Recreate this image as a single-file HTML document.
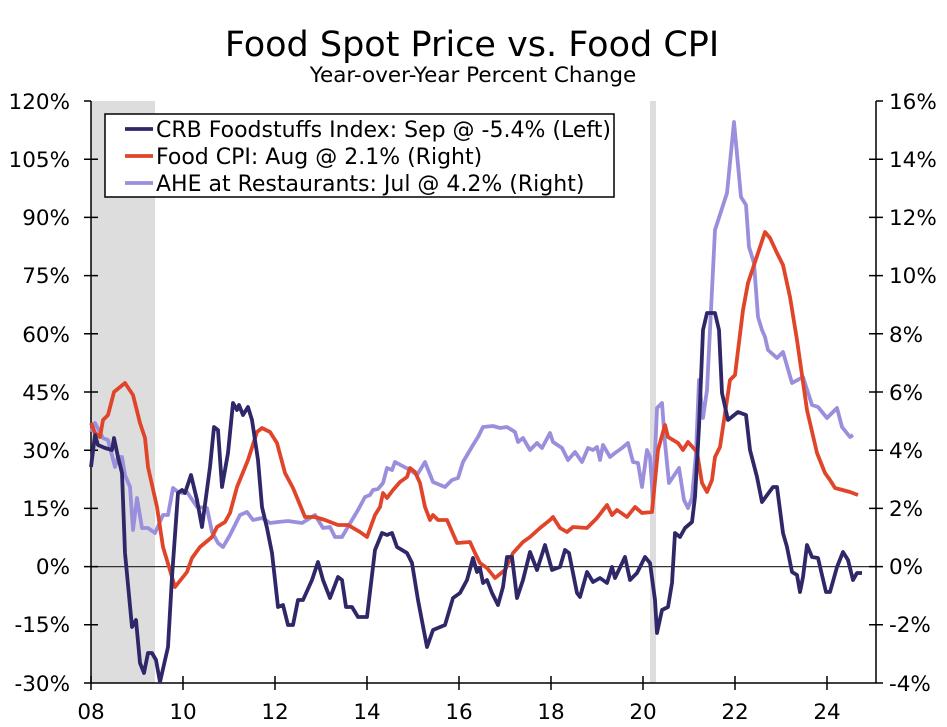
<!DOCTYPE html>
<html><head><meta charset="utf-8"><style>
body{margin:0;background:#fff}
svg{display:block;font-family:"DejaVu Sans","Liberation Sans",sans-serif}
</style></head><body>
<svg width="947" height="727" xmlns="http://www.w3.org/2000/svg">
<rect width="947" height="727" fill="#fff"/>
<text x="472" y="56" font-size="35" text-anchor="middle">Food Spot Price vs. Food CPI</text>
<text x="473" y="82" font-size="21.5" text-anchor="middle">Year-over-Year Percent Change</text>
<rect x="91" y="101" width="64" height="582" fill="#dddddd"/>
<rect x="650" y="101" width="6" height="582" fill="#dddddd"/>
<line x1="91" y1="566.6" x2="876" y2="566.6" stroke="#333" stroke-width="1.2"/>
<g stroke="#000" stroke-width="1.5" fill="none">
<line x1="91" y1="101" x2="91" y2="683"/>
<line x1="876" y1="101" x2="876" y2="683"/>
<line x1="84" y1="683" x2="883" y2="683"/>
<line x1="84" y1="101" x2="91" y2="101"/>
<path d="M84 159.2h14M84 217.4h14M84 275.6h14M84 333.8h14M84 392h14M84 450.2h14M84 508.4h14M84 566.6h14M84 624.8h14"/>
<path d="M869 159.2h14M869 217.4h14M869 275.6h14M869 333.8h14M869 392h14M869 450.2h14M869 508.4h14M869 566.6h14M869 624.8h14M876 101h7"/>
<path d="M91 676v14M183 676v14M275 676v14M367 676v14M459 676v14M551 676v14M643 676v14M735 676v14M827 676v14"/>
</g>
<g font-size="21.5" text-anchor="end">
<text x="70" y="109">120%</text><text x="70" y="167">105%</text><text x="70" y="225">90%</text><text x="70" y="283">75%</text><text x="70" y="342">60%</text><text x="70" y="400">45%</text><text x="70" y="458">30%</text><text x="70" y="516">15%</text><text x="70" y="574">0%</text><text x="70" y="632">-15%</text><text x="70" y="691">-30%</text>
</g>
<g font-size="21.5" text-anchor="start">
<text x="889" y="109">16%</text><text x="889" y="167">14%</text><text x="889" y="225">12%</text><text x="889" y="283">10%</text><text x="889" y="342">8%</text><text x="889" y="400">6%</text><text x="889" y="458">4%</text><text x="889" y="516">2%</text><text x="889" y="574">0%</text><text x="889" y="632">-2%</text><text x="889" y="691">-4%</text>
</g>
<g font-size="21.5" text-anchor="middle">
<text x="91" y="719">08</text><text x="183" y="719">10</text><text x="275" y="719">12</text><text x="367" y="719">14</text><text x="459" y="719">16</text><text x="551" y="719">18</text><text x="643" y="719">20</text><text x="735" y="719">22</text><text x="827" y="719">24</text>
</g>
<g fill="none" stroke-width="3.8" stroke-linejoin="round">
<polyline stroke="#9a8fdc" points="91,432 95,423 103,438 108,440 115,467 118,457 122,457 125,475 130,487 133,530 137,498 142,528 148,528 155,533 163,515 168,515 173,488 178,492 183,493 187,492 197,507 207,508 212,532 218,543 223,547 230,535 240,515 247,512 253,520 262,518 270,523 278,522 288,521 302,523 315,515 323,528 330,527 335,537 342,537 352,520 358,510 365,497 370,495 373,490 378,489 383,483 387,468 392,470 395,462 410,470 417,475 425,462 433,482 445,487 452,480 458,478 463,462 473,445 478,437 483,427 493,426 500,428 507,427 515,432 518,442 523,438 530,450 537,443 542,448 550,433 553,442 562,448 568,460 575,452 582,462 588,448 593,450 597,447 600,460 603,445 610,457 615,453 622,448 628,443 633,462 638,463 642,487 647,450 650,457 653,500 657,408 662,403 665,443 669,483 679,468 684,500 688,508 692,498 696,453 699,380 703,418 707,390 715,230 727,193 734,122 741,197 746,205 749,247 754,263 758,317 762,330 765,337 768,350 777,358 783,352 792,383 803,377 812,405 818,407 827,418 837,408 842,427 850,437 853,435"/>
<polyline stroke="#e0452a" points="91,423 95,433 100,437 103,420 108,415 114,392 125,383 133,395 140,423 145,438 148,467 157,507 163,547 175,587 187,572 192,558 200,547 212,537 217,527 225,522 230,513 237,487 248,460 257,432 262,428 270,432 277,443 285,473 293,488 298,500 305,517 315,517 325,520 338,525 348,525 360,532 367,537 375,515 380,507 383,493 387,498 393,490 400,482 407,477 410,468 415,472 420,483 425,507 430,520 433,515 438,520 447,520 457,543 470,542 475,553 480,563 487,568 495,578 505,570 513,553 523,542 530,537 540,528 550,520 553,517 560,528 567,532 573,527 587,528 597,518 607,505 612,515 617,510 627,517 635,507 642,513 652,512 658,450 665,425 668,437 678,443 683,450 688,442 697,452 702,483 707,492 712,480 715,457 720,447 730,380 735,375 743,310 748,283 765,232 770,238 777,253 783,265 790,297 797,340 807,410 817,453 825,473 830,480 835,488 850,492 858,495"/>
<polyline stroke="#2e2868" points="91,467 95,435 98,445 105,448 112,450 114,438 118,457 122,473 125,553 132,627 136,620 140,663 144,673 148,653 152,653 156,660 160,682 168,647 172,577 178,493 182,490 185,493 191,475 197,500 202,527 210,467 214,427 218,430 222,487 228,453 233,403 237,410 239,405 243,415 248,407 252,420 258,460 262,507 267,528 272,553 278,607 283,605 288,625 293,625 298,600 303,600 312,580 318,562 323,580 330,598 338,577 342,580 346,607 352,607 358,617 367,617 375,550 382,533 387,535 392,533 397,547 407,553 412,563 418,600 427,647 433,630 445,625 453,598 460,593 467,580 473,558 477,572 480,568 483,583 487,580 492,593 498,605 503,587 507,557 512,557 517,598 523,580 530,552 537,570 545,545 552,570 560,567 565,550 569,553 577,593 580,597 587,572 593,582 600,578 607,583 612,567 615,578 625,557 630,580 637,573 645,557 650,563 655,600 657,633 662,610 668,607 672,583 675,533 680,537 685,528 692,522 695,497 699,427 703,330 707,313 715,313 719,330 722,393 728,420 738,412 746,415 750,450 757,477 762,502 773,487 777,487 783,533 787,547 792,572 797,575 800,592 803,577 807,545 812,557 818,558 826,592 830,592 837,567 843,552 848,560 853,580 857,573 862,573"/>
</g>
<rect x="105" y="114" width="509" height="83" fill="#fff" stroke="#000" stroke-width="1.5"/>
<g stroke-width="3.8"><line x1="125" y1="129" x2="153" y2="129" stroke="#2e2868"/><line x1="125" y1="156" x2="153" y2="156" stroke="#e0452a"/><line x1="125" y1="183" x2="153" y2="183" stroke="#9a8fdc"/></g>
<g font-size="22"><text x="156" y="137">CRB Foodstuffs Index: Sep @ -5.4% (Left)</text><text x="156" y="164">Food CPI: Aug @ 2.1% (Right)</text><text x="156" y="191">AHE at Restaurants: Jul @ 4.2% (Right)</text></g>
</svg>
</body></html>
